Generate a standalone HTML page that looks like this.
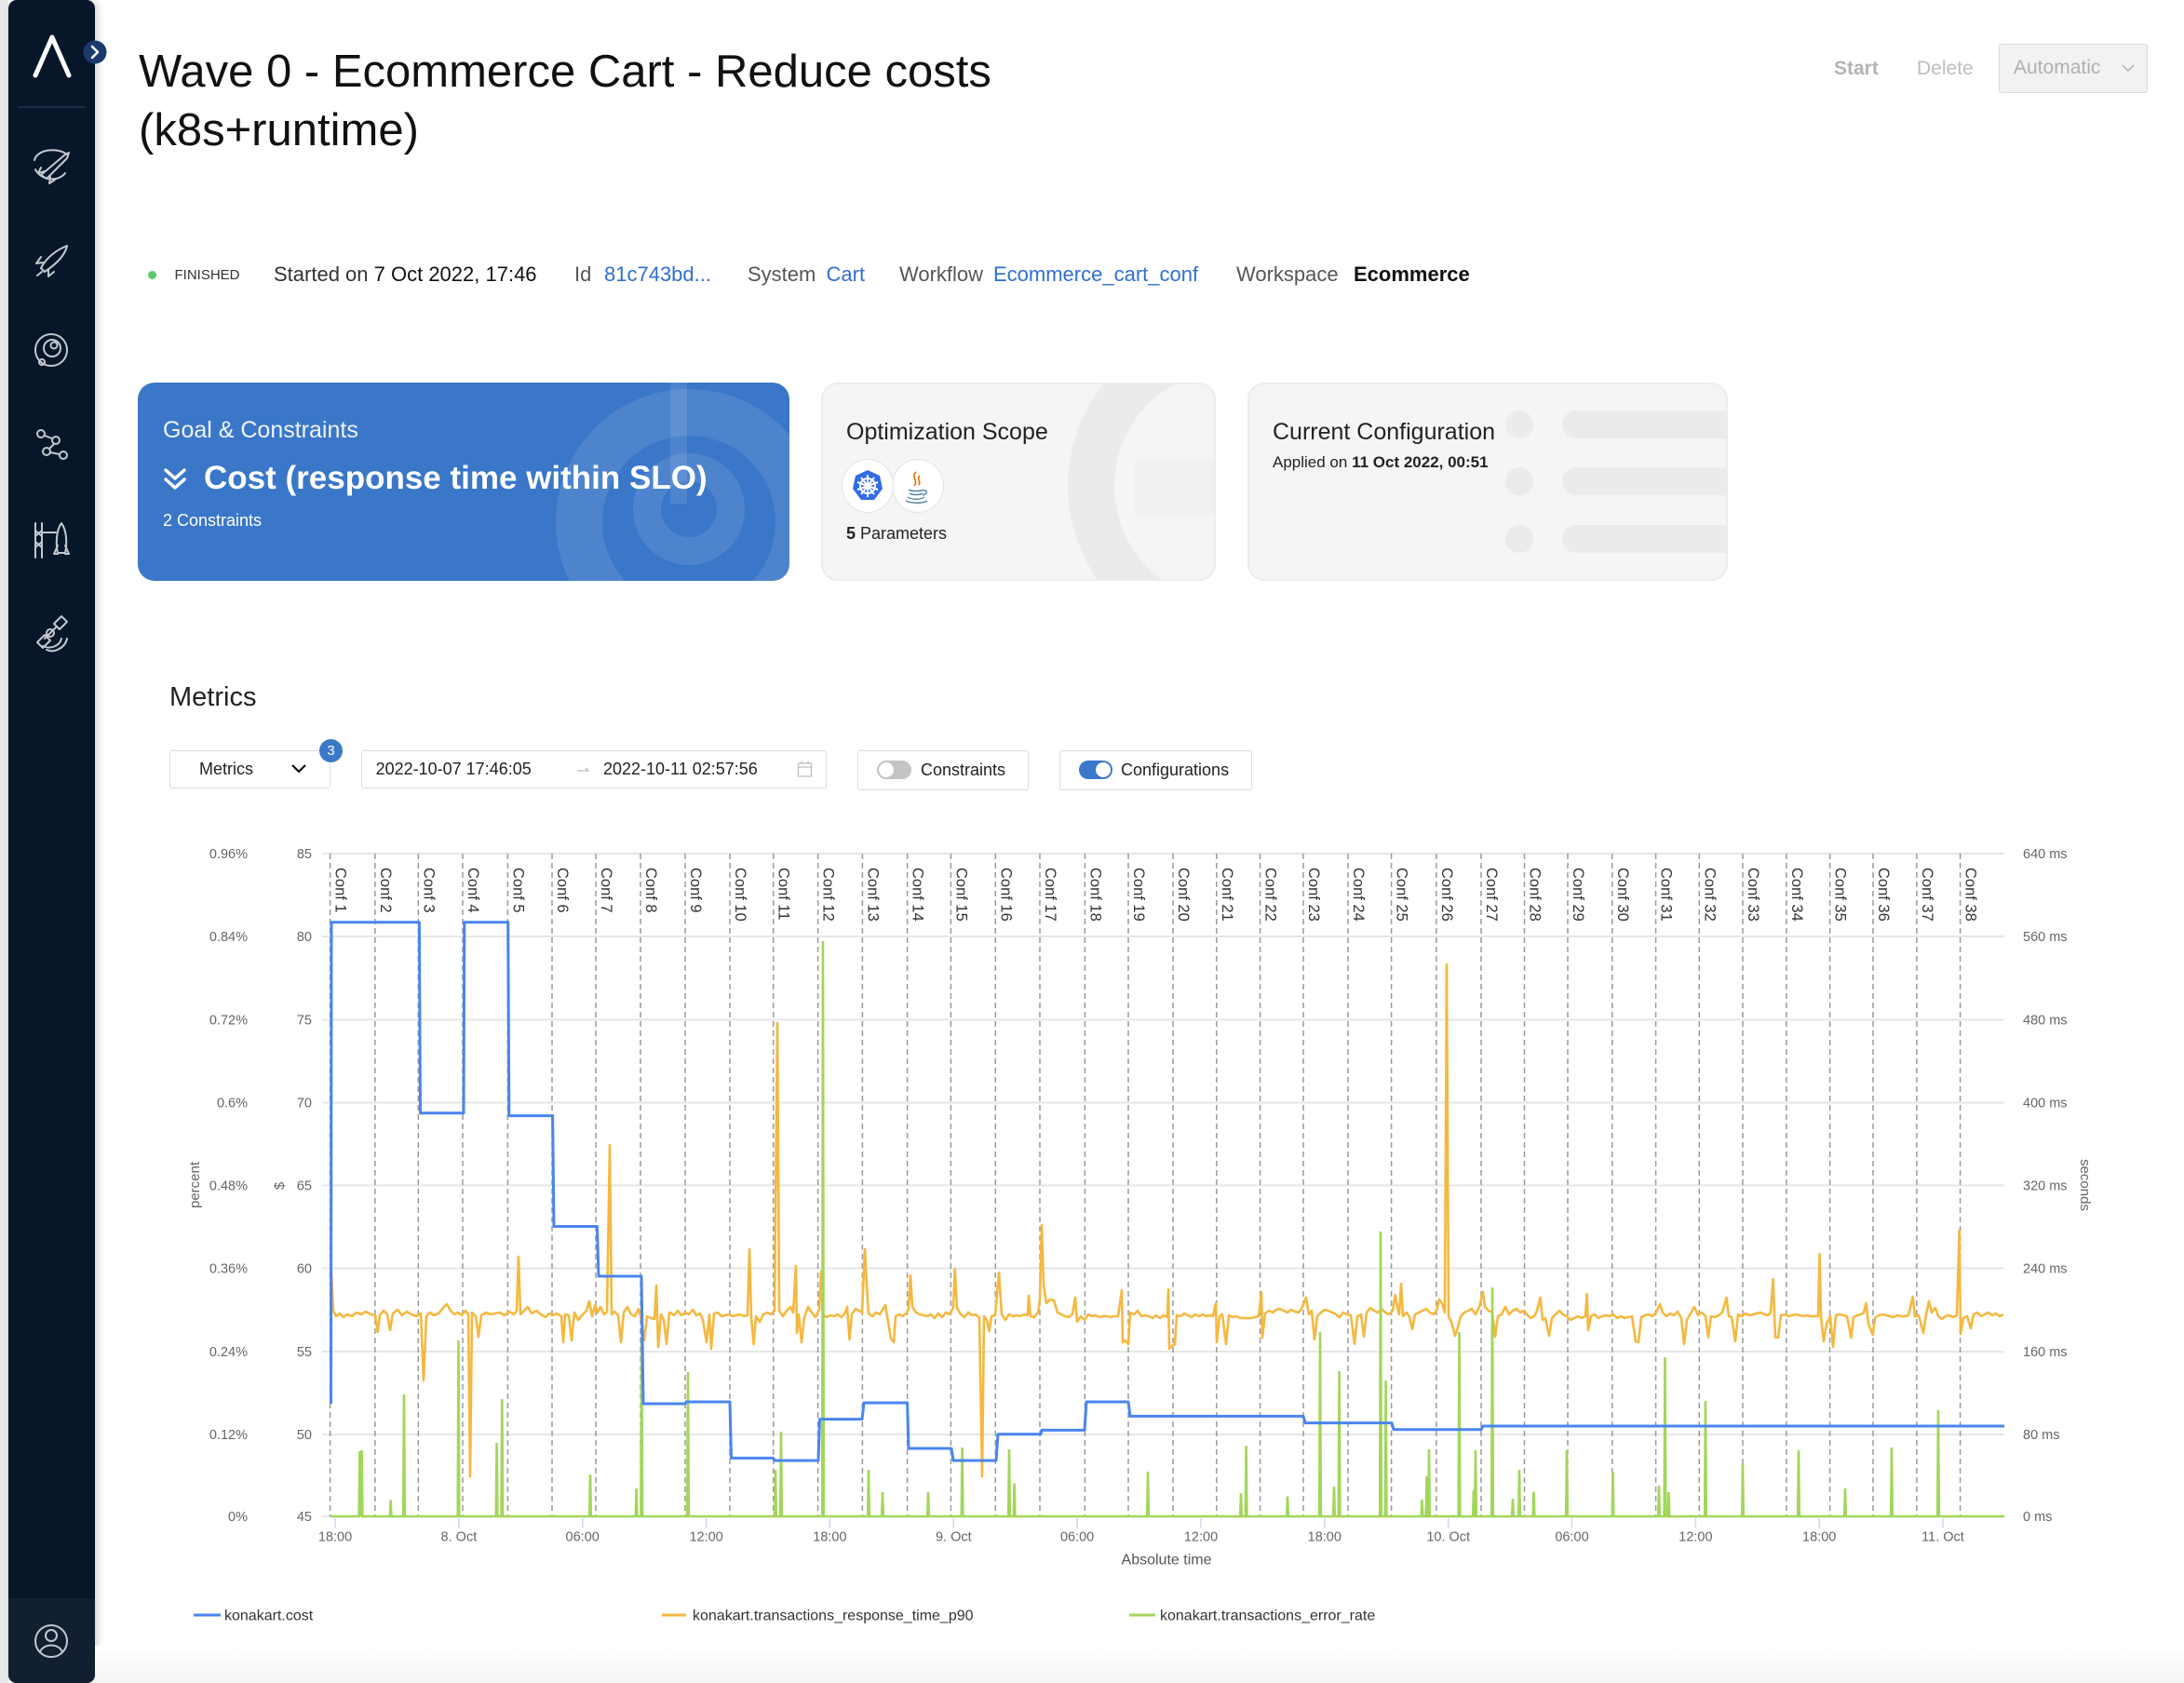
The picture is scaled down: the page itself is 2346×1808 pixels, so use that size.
<!DOCTYPE html>
<html><head><meta charset="utf-8">
<style>
html,body{margin:0;padding:0;}
body{width:2346px;height:1808px;overflow:hidden;position:relative;background:#fff;font-family:"Liberation Sans",Arial,sans-serif;color:#222;}
.a{position:absolute;white-space:nowrap;}
.t22{font-size:22px;line-height:30px;}
.gray{color:#555;}
.blue{color:#2f6fd1;}
.card{position:absolute;overflow:hidden;box-sizing:border-box;border-radius:18px;}
.box{position:absolute;box-sizing:border-box;border:1.5px solid #dcdcdc;background:#fff;border-radius:3px;}
</style></head><body>

<!-- left strip + sidebar -->
<div class="a" style="left:0;top:0;width:9px;height:1808px;background:#e9e9e9;"></div>
<div class="a" style="left:9px;top:0;width:93px;height:1808px;background:#071628;border-radius:9px 9px 9px 9px;box-shadow:3px 0 8px rgba(0,0,0,0.18);overflow:hidden;">
  <div style="position:absolute;left:0;top:1717px;width:93px;height:91px;background:#111f31;"></div>
</div>
<svg class="a" style="left:0;top:0" width="130" height="1808" viewBox="0 0 130 1808">
  <polyline points="38,81 56,40 74,81" fill="none" stroke="#fff" stroke-width="5" stroke-linecap="round" stroke-linejoin="round"/>
  <line x1="19" y1="115" x2="91" y2="115" stroke="#25344a" stroke-width="1.5"/>
  <circle cx="102" cy="56" r="12.5" fill="#1b3a6c"/>
  <polyline points="99,50 105,56 99,62" fill="none" stroke="#fff" stroke-width="2.5" stroke-linecap="round" stroke-linejoin="round"/>
  <g fill="none" stroke="#c3c8d0" stroke-width="2" stroke-linecap="round" stroke-linejoin="round">
    <path d="M37,172 C40,160 62,158 72,166 M38,182 C44,194 62,196 70,186"/>
    <path d="M44,188 L70,166 L74,164 L72,170 L50,192 Z M48,184 l-7,2 l3,-6 M54,190 l-1,7 l6,-4"/>
    <path d="M44,288 C50,276 62,268 72,264 C70,274 60,284 48,292 Z M46,282 l-7,1 l5,-7 M52,290 l0,7 l6,-5 M40,296 l5,-4"/>
    <circle cx="55" cy="376" r="17"/><circle cx="56" cy="374" r="9"/><circle cx="58" cy="371" r="3.5"/><circle cx="45" cy="389" r="3"/>
    <circle cx="44" cy="466" r="4"/><circle cx="60" cy="473" r="4"/><circle cx="50" cy="485" r="4"/><circle cx="68" cy="489" r="4"/>
    <path d="M48,468 L56,471 M58,477 L53,482 M54,486 L64,488"/>
    <path d="M38,562 L38,599 M45,562 L45,599 M38,570 L45,576 M45,570 L38,576 M38,582 L45,588 M45,582 L38,588 M45,572 L60,572"/>
    <path d="M66,562 C60,570 60,585 62,594 L70,594 C72,585 72,570 66,562 Z M62,586 l-4,9 l4,0 M70,586 l4,9 l-4,0"/>
    <path d="M48,686 L60,674 M40,690 l8,-8 l6,6 l-8,8 Z M58,670 l8,-8 l6,6 l-8,8 Z"/>
    <circle cx="54" cy="680" r="4"/><path d="M46,694 C54,698 64,694 66,686 M50,698 C58,702 70,696 72,686"/>
    <circle cx="55" cy="1763" r="17"/><circle cx="55" cy="1757" r="6"/><path d="M43,1775 C46,1765 64,1765 67,1775"/>
  </g>
</svg>

<!-- Title -->
<div class="a" style="left:149px;top:53px;font-size:49px;line-height:49px;color:#111;">Wave 0 - Ecommerce Cart - Reduce costs</div>
<div class="a" style="left:149px;top:116px;font-size:49px;line-height:49px;color:#111;">(k8s+runtime)</div>

<!-- Top right -->
<div class="a" style="left:1970px;top:60px;font-size:21px;line-height:28px;color:#b3b3b3;font-weight:bold;">Start</div>
<div class="a" style="left:2059px;top:60px;font-size:21px;line-height:28px;color:#bdbdbd;">Delete</div>
<div class="a" style="left:2147px;top:47px;width:160px;height:53px;box-sizing:border-box;background:#f2f2f2;border:1.5px solid #d9d9d9;border-radius:3px;"></div>
<div class="a" style="left:2163px;top:59px;font-size:21px;line-height:28px;color:#b0b0b0;">Automatic</div>
<svg class="a" style="left:2278px;top:66px" width="16" height="14"><polyline points="2,4 8,10 14,4" fill="none" stroke="#b0b0b0" stroke-width="1.5"/></svg>

<!-- Status row -->
<div class="a" style="left:158.5px;top:290.5px;width:9px;height:9px;border-radius:50%;background:#5ec96b;"></div>
<div class="a" style="left:187.5px;top:286px;font-size:15px;line-height:20px;color:#333;">FINISHED</div>
<div class="a t22" style="left:294px;top:280px;color:#333;">Started on <span style="color:#111;">7 Oct 2022, 17:46</span></div>
<div class="a t22 gray" style="left:617px;top:280px;">Id</div>
<div class="a t22 blue" style="left:649px;top:280px;">81c743bd...</div>
<div class="a t22 gray" style="left:803px;top:280px;">System</div>
<div class="a t22 blue" style="left:887.5px;top:280px;">Cart</div>
<div class="a t22 gray" style="left:966px;top:280px;">Workflow</div>
<div class="a t22 blue" style="left:1067px;top:280px;">Ecommerce_cart_conf</div>
<div class="a t22 gray" style="left:1328px;top:280px;">Workspace</div>
<div class="a t22" style="left:1454px;top:280px;color:#111;font-weight:bold;">Ecommerce</div>

<!-- Card 1 -->
<div class="card" style="left:148px;top:411px;width:700px;height:213px;background:#3a77c8;">
  <svg style="position:absolute;left:0;top:0" width="700" height="213">
    <g fill="none" stroke="rgba(255,255,255,0.10)">
      <circle cx="592" cy="150" r="118" stroke-width="50"/>
      <circle cx="592" cy="136" r="45" stroke-width="30"/>
    </g>
    <rect x="572" y="-10" width="18" height="140" fill="rgba(255,255,255,0.10)"/>
  </svg>
  <div class="a" style="left:27px;top:37px;font-size:25px;line-height:28px;color:#eef4fc;">Goal &amp; Constraints</div>
  <svg class="a" style="left:27px;top:91px" width="26" height="26"><g fill="none" stroke="#fff" stroke-width="3.5" stroke-linecap="round" stroke-linejoin="round"><polyline points="3,3 13,12 23,3"/><polyline points="3,13 13,22 23,13"/></g></svg>
  <div class="a" style="left:71px;top:83px;font-size:35px;line-height:40px;color:#fff;font-weight:bold;">Cost (response time within SLO)</div>
  <div class="a" style="left:27px;top:137px;font-size:18px;line-height:22px;color:#fff;">2 Constraints</div>
</div>

<!-- Card 2 -->
<div class="card" style="left:882px;top:411px;width:424px;height:213px;background:#f5f5f5;border:2px solid #ececec;">
  <svg style="position:absolute;left:0;top:0" width="424" height="213">
    <circle cx="438" cy="109" r="150" fill="none" stroke="#ebebeb" stroke-width="50"/>
    <path d="M335,80 L424,80 L424,140 L335,140 Z" fill="#ececec" opacity="0.6"/>
  </svg>
  <div class="a" style="left:25px;top:37px;font-size:25px;line-height:28px;color:#222;">Optimization Scope</div>
  <div class="a" style="left:74px;top:80px;width:54px;height:56px;border-radius:50%;background:#fff;border:1px solid #e3e3e3;"></div>
  <div class="a" style="left:20px;top:80px;width:54px;height:56px;border-radius:50%;background:#fff;border:1px solid #e3e3e3;"></div>
  <svg class="a" style="left:20px;top:80px" width="135" height="58">
    <polygon points="28,12 41,18 44,32 35,44 21,44 12,32 15,18" fill="#326ce5"/>
    <g stroke="#fff" stroke-width="2" fill="none"><circle cx="28" cy="29" r="8"/><path d="M28,17 V41 M17,25 L39,33 M17,33 L39,25 M21,20 L35,38 M35,20 L21,38"/></g>
    <circle cx="28" cy="29" r="2.5" fill="#fff"/>
    <g transform="translate(-25,0)">
    <path d="M105,14 C99,20 108,23 103,29 M109,18 C105,22 111,24 108,28" fill="none" stroke="#e76f00" stroke-width="1.6"/>
    <g fill="none" stroke="#5382a1" stroke-width="1.4"><path d="M97,33 C100,35 110,35 113,33 M98,37 C101,39 109,39 112,37 M96,41 C100,44 110,44 114,41 M113,34 C118,33 117,38 112,39 M94,45 C100,48 112,48 117,45"/></g>
    </g>
  </svg>
  <div class="a" style="left:25px;top:149px;font-size:18px;line-height:22px;color:#222;"><b>5</b> Parameters</div>
</div>

<!-- Card 3 -->
<div class="card" style="left:1340px;top:411px;width:516px;height:213px;background:#f5f5f5;border:2px solid #ececec;">
  <svg style="position:absolute;left:0;top:0" width="516" height="213">
    <g fill="#ebebeb">
      <circle cx="290" cy="43" r="15"/><circle cx="290" cy="104" r="15"/><circle cx="290" cy="166" r="15"/>
      <rect x="336" y="28" width="200" height="30" rx="15"/><rect x="336" y="89" width="200" height="30" rx="15"/><rect x="336" y="151" width="200" height="30" rx="15"/>
    </g>
  </svg>
  <div class="a" style="left:25px;top:37px;font-size:25px;line-height:28px;color:#222;">Current Configuration</div>
  <div class="a" style="left:25px;top:73px;font-size:17px;line-height:22px;color:#222;">Applied on <b>11 Oct 2022, 00:51</b></div>
</div>

<!-- Metrics header + controls -->
<div class="a" style="left:182px;top:732px;font-size:29px;line-height:34px;color:#222;">Metrics</div>
<div class="box" style="left:182px;top:806px;width:173px;height:41px;"></div>
<div class="a" style="left:214px;top:815px;font-size:18px;line-height:22px;color:#222;">Metrics</div>
<svg class="a" style="left:312px;top:819px" width="18" height="14"><polyline points="2,3 9,10 16,3" fill="none" stroke="#111" stroke-width="2.2"/></svg>
<div class="a" style="left:343px;top:794px;width:25px;height:25px;border-radius:50%;background:#3a78c9;color:#fff;font-size:15px;line-height:25px;text-align:center;">3</div>
<div class="box" style="left:387.6px;top:806px;width:500.4px;height:41px;"></div>
<div class="a" style="left:403.6px;top:815px;font-size:18px;line-height:22px;color:#222;">2022-10-07 17:46:05</div>
<svg class="a" style="left:619px;top:820px" width="16" height="12"><path d="M1,8 H13 L10,5" fill="none" stroke="#bbb" stroke-width="1.3"/></svg>
<div class="a" style="left:648px;top:815px;font-size:18px;line-height:22px;color:#222;">2022-10-11 02:57:56</div>
<svg class="a" style="left:856px;top:817px" width="17" height="19"><g fill="none" stroke="#bdbdbd" stroke-width="1.3"><rect x="1.5" y="3" width="14" height="14" rx="1"/><path d="M1.5,7 H15.5 M5,1 V4 M12,1 V4"/></g></svg>
<div class="box" style="left:921px;top:806px;width:183.5px;height:43px;"></div>
<div class="a" style="left:942px;top:817px;width:37px;height:20px;border-radius:10px;background:#c4c4c4;"></div>
<div class="a" style="left:944px;top:819px;width:16px;height:16px;border-radius:50%;background:#fff;"></div>
<div class="a" style="left:989px;top:816px;font-size:18px;line-height:22px;color:#222;">Constraints</div>
<div class="box" style="left:1138px;top:806px;width:207px;height:43px;"></div>
<div class="a" style="left:1159px;top:817px;width:36px;height:20px;border-radius:10px;background:#3a78c9;"></div>
<div class="a" style="left:1177px;top:819px;width:16px;height:16px;border-radius:50%;background:#fff;"></div>
<div class="a" style="left:1204px;top:816px;font-size:18px;line-height:22px;color:#222;">Configurations</div>

<!-- bottom fade -->
<div class="a" style="left:102px;top:1768px;width:2244px;height:40px;background:linear-gradient(#ffffff,#f4f4f4);"></div>

<!-- Chart -->
<svg class="a" style="left:0;top:0" width="2346" height="1808" viewBox="0 0 2346 1808" font-family="Liberation Sans, Arial, sans-serif">
  <g stroke="#e6e6e6" stroke-width="2">
    <line x1="346" y1="917" x2="2153" y2="917"/><line x1="346" y1="1006" x2="2153" y2="1006"/>
    <line x1="346" y1="1095.5" x2="2153" y2="1095.5"/><line x1="346" y1="1184.5" x2="2153" y2="1184.5"/>
    <line x1="346" y1="1273.5" x2="2153" y2="1273.5"/><line x1="346" y1="1362.5" x2="2153" y2="1362.5"/>
    <line x1="346" y1="1452" x2="2153" y2="1452"/><line x1="346" y1="1541" x2="2153" y2="1541"/>
    <line x1="346" y1="1629" x2="2153" y2="1629"/>
  </g>
  <g stroke="#ccd6eb" stroke-width="1.5">
    <line x1="360" y1="1631" x2="360" y2="1641"/><line x1="492.9" y1="1631" x2="492.9" y2="1641"/><line x1="625.7" y1="1631" x2="625.7" y2="1641"/><line x1="758.6" y1="1631" x2="758.6" y2="1641"/><line x1="891.4" y1="1631" x2="891.4" y2="1641"/><line x1="1024.3" y1="1631" x2="1024.3" y2="1641"/><line x1="1157.1" y1="1631" x2="1157.1" y2="1641"/><line x1="1290" y1="1631" x2="1290" y2="1641"/><line x1="1422.8" y1="1631" x2="1422.8" y2="1641"/><line x1="1555.7" y1="1631" x2="1555.7" y2="1641"/><line x1="1688.5" y1="1631" x2="1688.5" y2="1641"/><line x1="1821.4" y1="1631" x2="1821.4" y2="1641"/><line x1="1954.2" y1="1631" x2="1954.2" y2="1641"/><line x1="2087" y1="1631" x2="2087" y2="1641"/>
  </g>
  <g stroke="#9a9a9a" stroke-width="1.5" stroke-dasharray="6,4">
    <line x1="354.6" y1="917" x2="354.6" y2="1629"/><line x1="402.9" y1="917" x2="402.9" y2="1629"/><line x1="449.3" y1="917" x2="449.3" y2="1629"/><line x1="497" y1="917" x2="497" y2="1629"/><line x1="545.4" y1="917" x2="545.4" y2="1629"/><line x1="593" y1="917" x2="593" y2="1629"/><line x1="640" y1="917" x2="640" y2="1629"/><line x1="688" y1="917" x2="688" y2="1629"/><line x1="736" y1="917" x2="736" y2="1629"/><line x1="784" y1="917" x2="784" y2="1629"/><line x1="830.7" y1="917" x2="830.7" y2="1629"/><line x1="878.6" y1="917" x2="878.6" y2="1629"/><line x1="926.4" y1="917" x2="926.4" y2="1629"/><line x1="974.6" y1="917" x2="974.6" y2="1629"/><line x1="1021.4" y1="917" x2="1021.4" y2="1629"/><line x1="1069.3" y1="917" x2="1069.3" y2="1629"/><line x1="1117" y1="917" x2="1117" y2="1629"/><line x1="1165.4" y1="917" x2="1165.4" y2="1629"/><line x1="1212" y1="917" x2="1212" y2="1629"/><line x1="1260" y1="917" x2="1260" y2="1629"/><line x1="1306.8" y1="917" x2="1306.8" y2="1629"/><line x1="1353.6" y1="917" x2="1353.6" y2="1629"/><line x1="1400" y1="917" x2="1400" y2="1629"/><line x1="1448" y1="917" x2="1448" y2="1629"/><line x1="1494.6" y1="917" x2="1494.6" y2="1629"/><line x1="1542.9" y1="917" x2="1542.9" y2="1629"/><line x1="1591" y1="917" x2="1591" y2="1629"/><line x1="1637.5" y1="917" x2="1637.5" y2="1629"/><line x1="1684" y1="917" x2="1684" y2="1629"/><line x1="1731.8" y1="917" x2="1731.8" y2="1629"/><line x1="1778.6" y1="917" x2="1778.6" y2="1629"/><line x1="1825.3" y1="917" x2="1825.3" y2="1629"/><line x1="1872" y1="917" x2="1872" y2="1629"/><line x1="1918.9" y1="917" x2="1918.9" y2="1629"/><line x1="1965.6" y1="917" x2="1965.6" y2="1629"/><line x1="2012" y1="917" x2="2012" y2="1629"/><line x1="2058.9" y1="917" x2="2058.9" y2="1629"/><line x1="2105.6" y1="917" x2="2105.6" y2="1629"/>
  </g>
  <g font-size="16.5" fill="#333">
    <text transform="translate(360.6,932) rotate(90)">Conf 1</text><text transform="translate(408.9,932) rotate(90)">Conf 2</text><text transform="translate(455.3,932) rotate(90)">Conf 3</text><text transform="translate(503,932) rotate(90)">Conf 4</text><text transform="translate(551.4,932) rotate(90)">Conf 5</text><text transform="translate(599,932) rotate(90)">Conf 6</text><text transform="translate(646,932) rotate(90)">Conf 7</text><text transform="translate(694,932) rotate(90)">Conf 8</text><text transform="translate(742,932) rotate(90)">Conf 9</text><text transform="translate(790,932) rotate(90)">Conf 10</text><text transform="translate(836.7,932) rotate(90)">Conf 11</text><text transform="translate(884.6,932) rotate(90)">Conf 12</text><text transform="translate(932.4,932) rotate(90)">Conf 13</text><text transform="translate(980.6,932) rotate(90)">Conf 14</text><text transform="translate(1027.4,932) rotate(90)">Conf 15</text><text transform="translate(1075.3,932) rotate(90)">Conf 16</text><text transform="translate(1123,932) rotate(90)">Conf 17</text><text transform="translate(1171.4,932) rotate(90)">Conf 18</text><text transform="translate(1218,932) rotate(90)">Conf 19</text><text transform="translate(1266,932) rotate(90)">Conf 20</text><text transform="translate(1312.8,932) rotate(90)">Conf 21</text><text transform="translate(1359.6,932) rotate(90)">Conf 22</text><text transform="translate(1406,932) rotate(90)">Conf 23</text><text transform="translate(1454,932) rotate(90)">Conf 24</text><text transform="translate(1500.6,932) rotate(90)">Conf 25</text><text transform="translate(1548.9,932) rotate(90)">Conf 26</text><text transform="translate(1597,932) rotate(90)">Conf 27</text><text transform="translate(1643.5,932) rotate(90)">Conf 28</text><text transform="translate(1690,932) rotate(90)">Conf 29</text><text transform="translate(1737.8,932) rotate(90)">Conf 30</text><text transform="translate(1784.6,932) rotate(90)">Conf 31</text><text transform="translate(1831.3,932) rotate(90)">Conf 32</text><text transform="translate(1878,932) rotate(90)">Conf 33</text><text transform="translate(1924.9,932) rotate(90)">Conf 34</text><text transform="translate(1971.6,932) rotate(90)">Conf 35</text><text transform="translate(2018,932) rotate(90)">Conf 36</text><text transform="translate(2064.9,932) rotate(90)">Conf 37</text><text transform="translate(2111.6,932) rotate(90)">Conf 38</text>
  </g>
  <!-- orange -->
  <path fill="none" stroke="#f5b83f" stroke-width="2.6" stroke-linejoin="round" d="M356,1367 L358,1408 L361,1414 L365,1411 L369,1415 L373,1412 L378,1414 L383,1410 L388,1412 L393,1409 L398,1412 L403,1413 L405.7,1431 L408,1413 L412,1408 L416,1412 L419,1429 L422,1411 L427,1407 L432,1413 L437,1409 L442,1412 L447,1414 L452,1411 L455,1483 L458,1414 L462,1410 L466,1413 L471,1411 L476,1405 L480,1401 L484,1408 L488,1412 L492,1410 L496,1413 L500,1408 L503,1412 L505,1586 L507,1410 L511,1414 L514,1436 L517,1413 L522,1410 L527,1412 L532,1411 L537,1410 L542,1413 L547,1409 L552,1412 L555,1408 L557,1350 L559,1412 L563,1408 L567,1404 L571,1411 L576,1408 L581,1412 L586,1415 L590,1411 L594,1413 L598,1411 L603,1414 L605,1442 L607,1412 L611,1413 L614,1440 L617,1410 L621,1418 L626,1412 L630,1408 L633,1398 L636,1414 L639,1402 L642,1410 L645,1404 L649,1412 L652,1409 L655,1230 L657,1412 L660,1409 L664,1413 L667,1442 L670,1410 L674,1404 L678,1412 L682,1414 L686,1406 L689,1418 L692,1440 L695,1414 L699,1416 L703,1417 L705,1381 L707,1447 L710,1412 L713,1418 L716,1444 L719,1410 L720,1410 L724,1413 L728,1408 L732,1413 L736,1410 L740,1412 L744,1407 L748,1413 L752,1411 L755,1418 L759,1442 L762,1412 L764,1449 L767,1411 L771,1410 L775,1414 L779,1413 L783,1412 L787,1414 L791,1413 L795,1412 L799,1414 L803,1413 L805,1342 L807,1415 L809.6,1444 L812,1414 L816,1420 L820,1412 L824,1410 L828,1412 L832,1408 L835,1099 L837,1408 L841,1414 L845,1408 L849,1404 L852,1410 L855,1360 L856,1432 L858,1412 L861,1442 L864,1415 L868,1404 L872,1410 L876,1415 L880,1407 L882,1366 L884,1412 L888,1415 L892,1413 L896,1414 L900,1412 L904,1415 L908,1410 L910,1404 L912.5,1439 L915,1412 L919,1406 L923,1408 L926,1410 L929,1342 L931,1380 L933,1411 L937,1414 L941,1410 L945,1412 L948,1407 L951,1402 L954,1420 L957,1438 L960,1442 L962,1414 L966,1412 L970,1414 L974,1410 L976,1406 L978,1370 L980,1404 L984,1410 L988,1412 L992,1413 L996,1414 L1000,1412 L1004,1416 L1008,1411 L1012,1415 L1016,1410 L1020,1412 L1024,1405 L1025.7,1363 L1028,1405 L1032,1412 L1036,1415 L1040,1410 L1044,1413 L1048,1412 L1052,1416 L1055,1586 L1057,1414 L1060,1418 L1062.5,1430 L1065,1414 L1069,1413 L1073,1367 L1076,1412 L1080,1418 L1084,1412 L1088,1414 L1092,1413 L1096,1414 L1100,1412 L1104,1413 L1105,1392 L1107,1414 L1111,1415 L1115,1410 L1117,1396 L1119,1316 L1121,1380 L1124,1400 L1128,1396 L1132,1397 L1136,1410 L1140,1412 L1144,1414 L1148,1415 L1152,1412 L1155,1394 L1157,1420 L1161,1414 L1165,1418 L1169,1412 L1173,1414 L1177,1413 L1181,1415 L1185,1414 L1189,1414 L1193,1415 L1197,1414 L1201,1414 L1205,1386 L1206,1442 L1209,1440 L1212,1444 L1214,1410 L1218,1412 L1222,1408 L1226,1414 L1230,1413 L1234,1414 L1238,1416 L1242,1413 L1246,1416 L1250,1413 L1254,1415 L1255,1385 L1256,1449 L1259,1446 L1262,1444 L1264,1413 L1268,1414 L1272,1411 L1276,1413 L1280,1415 L1284,1412 L1288,1414 L1292,1412 L1296,1414 L1300,1413 L1303,1414 L1306,1400 L1307,1442 L1310,1414 L1313,1412 L1317,1444 L1320,1413 L1324,1415 L1328,1414 L1332,1416 L1336,1416 L1340,1416 L1344,1416 L1348,1415 L1352,1414 L1355,1388 L1356,1437 L1359,1411 L1363,1408 L1367,1410 L1371,1407 L1375,1406 L1379,1408 L1383,1410 L1387,1407 L1391,1409 L1395,1410 L1399,1404 L1403,1394 L1406,1412 L1409,1408 L1412,1439 L1415,1414 L1419,1410 L1423,1407 L1427,1408 L1431,1410 L1435,1412 L1439,1415 L1443,1410 L1447,1412 L1451,1413 L1455,1443.6 L1458,1414 L1462,1412 L1465,1436 L1468,1410 L1472,1405 L1476,1408 L1480,1410 L1484,1406 L1488,1410 L1492,1412 L1496,1408 L1498.6,1391 L1501,1404 L1503,1412 L1505,1379 L1507,1414 L1511,1410 L1514,1415 L1517,1428 L1520,1412 L1524,1410 L1528,1408 L1532,1406 L1536,1410 L1540,1412 L1543,1408 L1546,1396 L1549,1400 L1552,1410 L1554,1036 L1556,1414 L1559,1420 L1563,1435 L1566,1426 L1569,1414 L1573,1410 L1577,1408 L1581,1406 L1585,1412 L1589,1404 L1593,1388 L1595,1404 L1599,1408 L1603,1410 L1606,1436 L1609,1414 L1613,1412 L1617,1404 L1621,1412 L1625,1408 L1629,1406 L1633,1410 L1637,1408 L1640,1412 L1644,1416 L1648,1414 L1651,1408 L1654.6,1394 L1657,1418 L1660,1416 L1664,1435 L1667,1416 L1671,1412 L1675,1408 L1679,1412 L1683,1414 L1687,1418 L1691,1416 L1695,1414 L1699,1416 L1703,1414 L1704.6,1390 L1706,1429 L1709,1414 L1713,1412 L1717,1416 L1721,1414 L1725,1413 L1729,1414 L1733,1412 L1737,1416 L1741,1414 L1745,1416 L1749,1415 L1753,1414 L1757,1441 L1760,1442 L1763,1415 L1767,1413 L1771,1412 L1775,1414 L1779,1410 L1783,1401 L1786,1410 L1790,1414 L1794,1411 L1798,1413 L1802,1409 L1806,1416 L1809,1444 L1812,1418 L1816,1411 L1820,1404 L1824,1413 L1828,1410 L1832,1414 L1835,1436.6 L1838,1414 L1842,1415 L1846,1413 L1850,1410 L1854.6,1394 L1857,1414 L1860,1415 L1864,1441 L1867,1412 L1871,1414 L1875,1411 L1879,1413 L1883,1412 L1887,1411 L1891,1410 L1895,1412 L1899,1413 L1902,1410 L1904.6,1374 L1906,1412 L1907,1436.6 L1910,1437 L1913,1413 L1917,1412 L1921,1414 L1925,1413 L1929,1412 L1933,1413 L1937,1414 L1941,1413 L1945,1414 L1949,1414 L1953,1414 L1954.6,1347 L1956,1414 L1959,1441 L1962,1422 L1966,1414 L1969,1447 L1972,1413 L1976,1412 L1980,1413 L1984,1414 L1988.5,1437 L1991,1415 L1995,1413 L1999,1412 L2002,1410 L2004.6,1400 L2007,1422 L2011.7,1434 L2014,1416 L2018,1413 L2022,1412 L2026,1413 L2030,1414 L2034,1415 L2038,1413 L2042,1414 L2046,1414 L2050,1413 L2054.6,1393 L2057,1414 L2061,1413 L2066,1432 L2069,1412 L2072,1398 L2075,1410 L2079,1405 L2082,1414 L2086,1417 L2090,1414 L2094,1413 L2098,1415 L2102,1413 L2104.6,1322 L2106,1433 L2109,1416 L2113,1414 L2117,1427 L2120,1412 L2124,1410 L2128,1414 L2132,1412 L2136,1410 L2140,1413 L2144,1411 L2148,1414 L2152,1412"/>
  <!-- green -->
  <path fill="none" stroke="#a2d65a" stroke-width="2.6" stroke-linejoin="miter" d="M355,1629 L385.6,1629 L386.4,1559 L387.5,1629 L388.6,1558 L389.4,1629 L418.8,1629 L419.6,1611.6 L420.4,1629 L433.2,1629 L434,1498 L434.8,1629 L491.7,1629 L492.5,1440 L493.3,1629 L532.8,1629 L533.6,1550 L534.4,1629 L538.5,1629 L539.3,1503 L540.1,1629 L633.2,1629 L634,1584 L634.8,1629 L682.8,1629 L683.6,1599 L684.4,1629 L688.5,1629 L689.3,1439 L690.1,1629 L738.2,1629 L739,1474 L739.8,1629 L832.2,1629 L833,1579 L833.8,1629 L838.2,1629 L839,1538 L839.8,1629 L883.2,1629 L884,1011 L884.8,1629 L932.2,1629 L933,1579 L933.8,1629 L947.2,1629 L948,1603 L948.8,1629 L996.2,1629 L997,1603 L997.8,1629 L1032.8,1629 L1033.6,1555 L1034.4,1629 L1083.2,1629 L1084,1557 L1084.8,1629 L1088.8,1629 L1089.6,1593.6 L1090.4,1629 L1232.2,1629 L1233,1581 L1233.8,1629 L1332.2,1629 L1333,1604 L1333.8,1629 L1337.8,1629 L1338.6,1553 L1339.4,1629 L1382.2,1629 L1383,1607.5 L1383.8,1629 L1417.2,1629 L1418,1431 L1418.8,1629 L1432.2,1629 L1433,1597 L1433.8,1629 L1437.8,1629 L1438.6,1473 L1439.4,1629 L1482.2,1629 L1483,1323 L1483.8,1629 L1487.8,1629 L1488.6,1483 L1489.4,1629 L1526.7,1629 L1527.5,1611 L1528.3,1629 L1531.7,1629 L1532.5,1586 L1533.3,1629 L1534.2,1629 L1535,1557 L1535.8,1629 L1566.7,1629 L1567.5,1431 L1568.3,1629 L1582.2,1629 L1583,1601 L1583.8,1629 L1584.2,1629 L1585,1558 L1585.8,1629 L1602.2,1629 L1603,1383 L1603.8,1629 L1624.2,1629 L1625,1610 L1625.8,1629 L1631.2,1629 L1632,1579 L1632.8,1629 L1646.7,1629 L1647.5,1602.5 L1648.3,1629 L1682.2,1629 L1683,1558 L1683.8,1629 L1731.7,1629 L1732.5,1581 L1733.3,1629 L1781.2,1629 L1782,1596 L1782.8,1629 L1787.7,1629 L1788.5,1458 L1789.3,1629 L1791.6,1629 L1792.4,1603 L1793.2,1629 L1831.2,1629 L1832,1505 L1832.8,1629 L1871.2,1629 L1872,1573 L1872.8,1629 L1931.2,1629 L1932,1558 L1932.8,1629 L1981.2,1629 L1982,1599 L1982.8,1629 L2031.2,1629 L2032,1555 L2032.8,1629 L2081.2,1629 L2082,1515 L2082.8,1629 L2153,1629"/>
  <!-- blue -->
  <path fill="none" stroke="#4a85ee" stroke-width="3" stroke-linejoin="round" d="M355.5,1508 L356,990.7 L450.4,990.7 L451.5,1195.7 L498,1195.7 L498.8,990.7 L545.7,990.7 L546.8,1198.6 L593.6,1198.6 L595,1317.5 L641.4,1317.5 L643,1371 L689,1371 L691,1508 L736,1508 L737,1506 L784,1506 L785.5,1566.4 L830.7,1566.4 L832,1569 L879,1569 L880.5,1524.6 L926,1524.6 L928,1507 L974.6,1507 L976,1556 L1022,1556 L1024,1569 L1070,1569 L1072,1540.7 L1118,1540.7 L1119,1536.4 L1165,1536.4 L1167,1506 L1212,1506 L1214,1521.4 L1400,1521.4 L1402,1528.6 L1495,1528.6 L1497,1535.7 L1591,1535.7 L1593,1532 L2153,1532"/>

  <g font-size="14.5" fill="#666" text-anchor="end">
    <text x="266" y="922.2">0.96%</text><text x="266" y="1011.2">0.84%</text><text x="266" y="1100.7">0.72%</text><text x="266" y="1189.7">0.6%</text><text x="266" y="1278.7">0.48%</text><text x="266" y="1367.7">0.36%</text><text x="266" y="1457.2">0.24%</text><text x="266" y="1546.2">0.12%</text><text x="266" y="1634.2">0%</text>
    <text x="335" y="922.2">85</text><text x="335" y="1011.2">80</text><text x="335" y="1100.7">75</text><text x="335" y="1189.7">70</text><text x="335" y="1278.7">65</text><text x="335" y="1367.7">60</text><text x="335" y="1457.2">55</text><text x="335" y="1546.2">50</text><text x="335" y="1634.2">45</text>
  </g>
  <g font-size="14.5" fill="#666">
    <text x="2173" y="922.2">640 ms</text><text x="2173" y="1011.2">560 ms</text><text x="2173" y="1100.7">480 ms</text><text x="2173" y="1189.7">400 ms</text><text x="2173" y="1278.7">320 ms</text><text x="2173" y="1367.7">240 ms</text><text x="2173" y="1457.2">160 ms</text><text x="2173" y="1546.2">80 ms</text><text x="2173" y="1634.2">0 ms</text>
  </g>
  <g font-size="14.5" fill="#666" text-anchor="middle">
    <text x="360" y="1655.4">18:00</text><text x="492.9" y="1655.4">8. Oct</text><text x="625.7" y="1655.4">06:00</text><text x="758.6" y="1655.4">12:00</text><text x="891.4" y="1655.4">18:00</text><text x="1024.3" y="1655.4">9. Oct</text><text x="1157.1" y="1655.4">06:00</text><text x="1290" y="1655.4">12:00</text><text x="1422.8" y="1655.4">18:00</text><text x="1555.7" y="1655.4">10. Oct</text><text x="1688.5" y="1655.4">06:00</text><text x="1821.4" y="1655.4">12:00</text><text x="1954.2" y="1655.4">18:00</text><text x="2087" y="1655.4">11. Oct</text>
    <text x="1253" y="1680.7" font-size="16" fill="#555">Absolute time</text>
    <text transform="translate(214,1273) rotate(-90)" font-size="15">percent</text>
    <text transform="translate(305,1274) rotate(-90)" font-size="15">$</text>
    <text transform="translate(2235,1273) rotate(90)" font-size="15">seconds</text>
  </g>
  <g stroke-width="3">
    <line x1="208" y1="1735" x2="237" y2="1735" stroke="#4a85ee"/>
    <line x1="711" y1="1735" x2="737" y2="1735" stroke="#f5b83f"/>
    <line x1="1213" y1="1735" x2="1241" y2="1735" stroke="#a2d65a"/>
  </g>
  <g font-size="16" fill="#333">
    <text x="241" y="1740.7">konakart.cost</text>
    <text x="744" y="1740.7">konakart.transactions_response_time_p90</text>
    <text x="1246" y="1740.7">konakart.transactions_error_rate</text>
  </g>
</svg>
</body></html>
